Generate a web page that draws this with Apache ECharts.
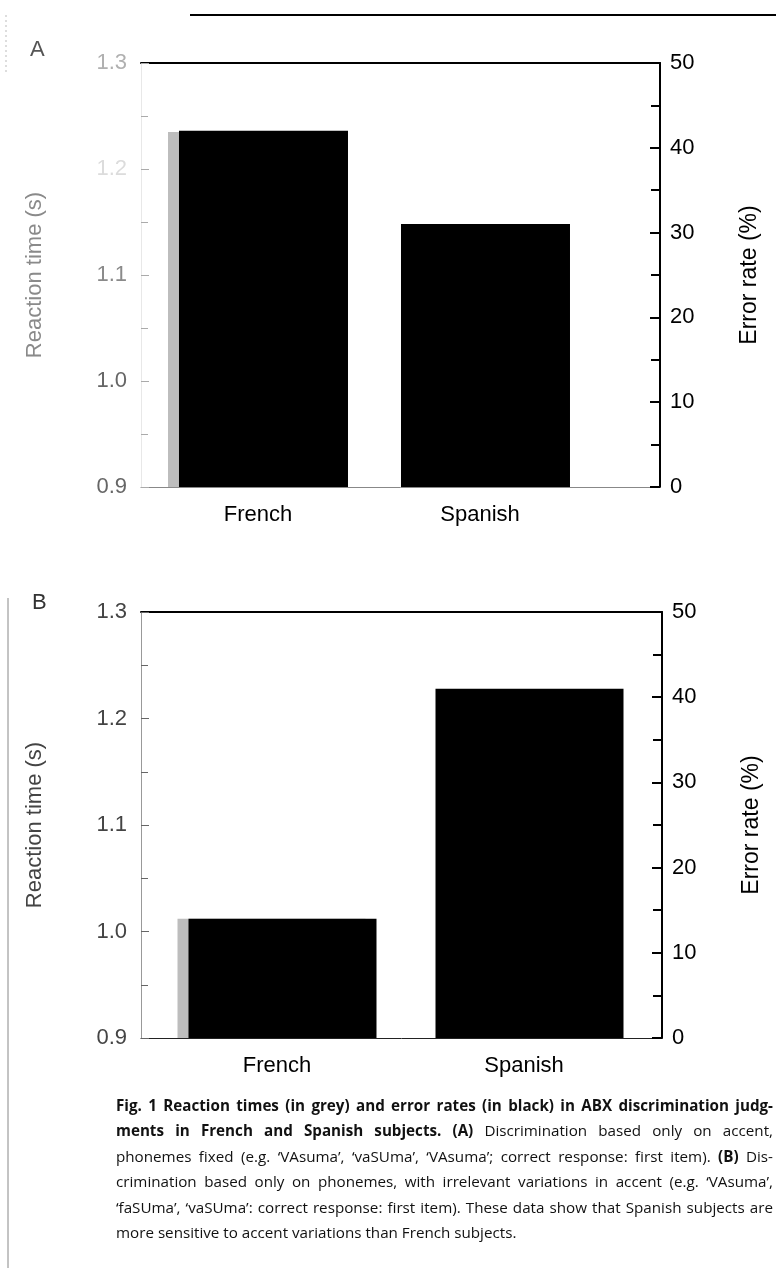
<!DOCTYPE html>
<html>
<head>
<meta charset="utf-8">
<script src="https://cdn.jsdelivr.net/npm/echarts@6/dist/echarts.min.js"></script>
<style>
  html, body { margin: 0; padding: 0; background: #fff; }
  #wrap { position: relative; width: 776px; height: 1270px; overflow: hidden; }
  #chart { position: absolute; left: 0; top: 0; width: 776px; height: 1270px; }
  #caption { position: absolute; left: 116px; top: 1093px; width: 657px;
    font-family: "Open Sans", "Noto Sans", sans-serif; font-size: 15.2px; line-height: 25.4px; color: #111; }
  #caption .ln { white-space: nowrap; }
  #caption b { font-weight: 700; }
</style>
</head>
<body>
<div id="wrap">
  <div id="chart"></div>
  <div id="caption">
    <div class="ln j"><span><b>Fig. 1 Reaction times (in grey) and error rates (in black) in ABX discrimination judg-</b></span></div>
    <div class="ln j"><span><b>ments in French and Spanish subjects. (A)</b> Discrimination based only on accent,</span></div>
    <div class="ln j"><span>phonemes fixed (e.g. ‘VAsuma’, ‘vaSUma’, ‘VAsuma’; correct response: first item). <b>(B)</b> Dis-</span></div>
    <div class="ln j"><span>crimination based only on phonemes, with irrelevant variations in accent (e.g. ‘VAsuma’,</span></div>
    <div class="ln j"><span>‘faSUma’, ‘vaSUma’: correct response: first item). These data show that Spanish subjects are</span></div>
    <div class="ln"><span>more sensitive to accent variations than French subjects.</span></div>
  </div>
</div>
<script>
// ---- data ----
const categories = ['French', 'Spanish'];
// Panel A: discrimination based on accent
const reactionTimeA = [1.235, null];   // s (grey)
const errorRateA = [42, 31];           // % (black)
// Panel B: discrimination based on phonemes
const reactionTimeB = [1.012, null];   // s (grey)
const errorRateB = [14, 41];           // % (black)
// axis ranges
const rtRange = [0.9, 1.3];
const rtStep = 0.1;
const errRange = [0, 50];
const errStep = 10;

const FONT = '"Liberation Sans", Arial, Helvetica, sans-serif';

function frameX(grid, pos, color, width) {
  return { gridIndex: grid, type: 'value', position: pos, min: 0, max: 1,
    axisLine: { show: true, onZero: false, lineStyle: { color: color, width: width } },
    axisTick: { show: false }, axisLabel: { show: false }, splitLine: { show: false } };
}
function catX(grid) {
  return { gridIndex: grid, type: 'category', data: categories, position: 'bottom',
    axisLine: { show: false }, axisTick: { show: false }, splitLine: { show: false },
    axisLabel: { margin: 17, fontFamily: FONT, fontSize: 22, color: '#000' } };
}
function leftY(grid, offset, labelColor, nameColor, tickColor, lineColor) {
  return { gridIndex: grid, type: 'value', position: 'left', offset: offset,
    min: rtRange[0], max: rtRange[1], interval: rtStep,
    name: 'Reaction time (s)', nameLocation: 'middle', nameGap: 95,
    nameTextStyle: { fontFamily: FONT, fontSize: 22, color: nameColor },
    axisLine: { show: true, onZero: false, lineStyle: { color: lineColor, width: 1 } },
    axisTick: { show: true, inside: true, length: 8, lineStyle: { color: tickColor, width: 1 } },
    minorTick: { show: true, splitNumber: 2, length: 7, lineStyle: { color: tickColor, width: 1 } },
    splitLine: { show: false }, minorSplitLine: { show: false },
    axisLabel: { margin: 14, fontFamily: FONT, fontSize: 22, color: labelColor,
      formatter: v => v.toFixed(1) } };
}
function rightY(grid, offset) {
  return { gridIndex: grid, type: 'value', position: 'right', offset: offset,
    min: errRange[0], max: errRange[1], interval: errStep,
    name: 'Error rate (%)', nameLocation: 'middle', nameGap: 78,
    nameTextStyle: { fontFamily: FONT, fontSize: 23, color: '#000' },
    axisLine: { show: true, onZero: false, lineStyle: { color: '#000', width: 2 } },
    axisTick: { show: true, inside: true, length: 10, lineStyle: { color: '#000', width: 2 } },
    minorTick: { show: true, splitNumber: 2, length: 9, lineStyle: { color: '#000', width: 2 } },
    splitLine: { show: false }, minorSplitLine: { show: false },
    axisLabel: { margin: 10, fontFamily: FONT, fontSize: 22, color: '#000' } };
}

// faded scan look for panel A's grey axis labels
const fadedA = function (v) {
  const s = Number(v).toFixed(1);
  if (s === '1.2') return '#dcdcdc';
  if (s === '1.3') return '#b0b0b0';
  if (s === '1.1') return '#8a8a8a';
  return '#666';
};

const chart = echarts.init(document.getElementById('chart'), null, { renderer: 'canvas' });
chart.setOption({
  animation: false,
  backgroundColor: '#fff',
  title: [
    { text: 'A', left: 25, top: 34, textStyle: { fontFamily: FONT, fontSize: 22, fontWeight: 'normal', color: '#555' } },
    { text: 'B', left: 27, top: 587, textStyle: { fontFamily: FONT, fontSize: 22, fontWeight: 'normal', color: '#333' } }
  ],
  grid: [
    { left: 141, right: 116, top: 63, bottom: 783 },      // frame A
    { left: 147, right: 185, top: 63, bottom: 783 },      // bars A
    { left: 141, right: 114, top: 612, bottom: 232 },     // frame B
    { left: 153.5, right: 128.5, top: 612, bottom: 232 }  // bars B
  ],
  xAxis: [
    frameX(0, 'top', '#000', 2),
    frameX(0, 'bottom', '#888', 1),
    catX(1),
    frameX(2, 'top', '#000', 2),
    frameX(2, 'bottom', '#222', 1),
    catX(3)
  ],
  yAxis: [
    { gridIndex: 0, type: 'value', show: false, min: 0, max: 1 },
    leftY(1, 6, fadedA, '#8a8a8a', '#aaa', '#e8e8e8'),
    rightY(1, 69),
    { gridIndex: 2, type: 'value', show: false, min: 0, max: 1 },
    leftY(3, 12.5, '#444', '#444', '#666', '#999'),
    rightY(3, 14.5)
  ],
  series: [
    { name: 'Reaction time A', type: 'bar', xAxisIndex: 2, yAxisIndex: 1, data: reactionTimeA,
      barWidth: 169, barGap: '-93.5%', itemStyle: { color: '#bdbdbd' } },
    { name: 'Error rate A', type: 'bar', xAxisIndex: 2, yAxisIndex: 2, data: errorRateA,
      barWidth: 169, barGap: '-93.5%', itemStyle: { color: '#000' } },
    { name: 'Reaction time B', type: 'bar', xAxisIndex: 5, yAxisIndex: 4, data: reactionTimeB,
      barWidth: 188, barGap: '-94.15%', itemStyle: { color: '#bdbdbd' } },
    { name: 'Error rate B', type: 'bar', xAxisIndex: 5, yAxisIndex: 5, data: errorRateB,
      barWidth: 188, barGap: '-94.15%', itemStyle: { color: '#000' } }
  ],
  graphic: [
    { type: 'line', shape: { x1: 190, y1: 15, x2: 776, y2: 15 }, style: { stroke: '#000', lineWidth: 2 } },
    { type: 'line', shape: { x1: 6, y1: 15, x2: 6, y2: 72 }, style: { stroke: '#bbb', lineWidth: 1, lineDash: [2, 3] } },
    { type: 'line', shape: { x1: 8, y1: 598, x2: 8, y2: 1268 }, style: { stroke: '#888', lineWidth: 1 } }
  ]
});

// justify caption lines to the column width
document.querySelectorAll('#caption .ln.j').forEach(function (ln) {
  const span = ln.querySelector('span');
  const w = span.getBoundingClientRect().width;
  const target = 657;
  const txt = span.textContent;
  const spaces = (txt.match(/ /g) || []).length;
  if (w > target) {
    span.style.letterSpacing = ((target - w) / txt.length) + 'px';
  } else if (spaces > 0) {
    span.style.wordSpacing = ((target - w) / spaces) + 'px';
  }
});
</script>
</body>
</html>
